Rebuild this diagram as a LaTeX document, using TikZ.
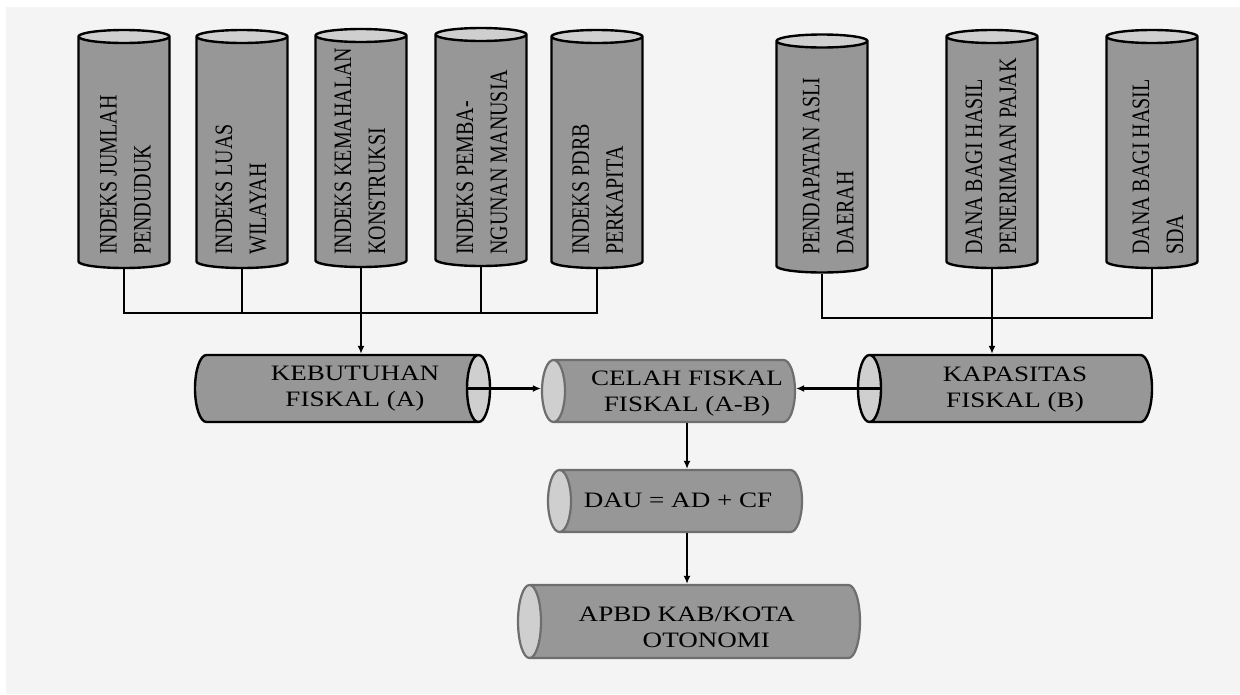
\documentclass[tikz,border=0pt]{standalone}
\usepackage{fontspec}
\setmainfont{Liberation Serif}
\newfontfamily\upfont[FakeStretch=0.8]{Liberation Serif}
\newfontfamily\flatfont[FakeStretch=1.23]{Liberation Serif}
\usetikzlibrary{shapes.geometric,arrows.meta}

\definecolor{bodygray}{HTML}{979797}
\definecolor{endgray}{HTML}{CFCFCF}
\definecolor{rimgray}{HTML}{6E6E6E}
\definecolor{paper}{HTML}{F4F4F4}

\tikzset{
  tube/.style={cylinder, cylinder uses custom fill, cylinder body fill=bodygray,
    cylinder end fill=endgray, draw=black, line width=2.4pt,
    inner xsep=0pt, inner ysep=10pt, anchor=shape center},
  uptube/.style={tube, rotate=90, minimum height=238pt, minimum width=91pt, aspect=0.65},
  flattube/.style={tube, minimum width=67pt, aspect=1.15},
  greytube/.style={flattube, draw=rimgray, line width=2.2pt, shape border rotate=180},
  uplabel/.style={rotate=90, anchor=west, inner sep=0pt, align=left,
    font=\upfont\fontsize{25}{34}\selectfont},
  flatlabel/.style={inner sep=0pt, align=center,
    font=\flatfont\fontsize{22}{26}\selectfont},
  link/.style={line width=2.6pt},
  arr/.style={link, -{Latex[length=8pt,width=7pt]}},
}

\begin{document}
\begin{tikzpicture}[x=1pt,y=-1pt]
  \useasboundingbox (0,0) rectangle (1240,694);
  \fill[paper] (6,7) rectangle (1240,694);

  % indeks kebutuhan fiskal
  \node[uptube] (c1) at (124,149) {};
  \node[uptube] (c2) at (242,149) {};
  \node[uptube] (c3) at (361,148) {};
  \node[uptube] (c4) at (481,147) {};
  \node[uptube] (c5) at (597,149) {};
  \node[uplabel] (c1t) at (125.5,255) {INDEKS JUMLAH\\PENDUDUK};
  \node[uplabel] (c2t) at (241,255) {INDEKS LUAS\\WILAYAH};
  \node[uplabel] (c3t) at (360,255) {INDEKS KEMAHALAN\\KONSTRUKSI};
  \node[uplabel] (c4t) at (482,255) {INDEKS PEMBA-\\NGUNAN MANUSIA};
  \node[uplabel] (c5t) at (597.5,255) {INDEKS PDRB\\PERKAPITA};

  % sumber kapasitas fiskal
  \node[uptube] (c6) at (822,153.5) {};
  \node[uptube] (c7) at (992,149) {};
  \node[uptube] (c8) at (1152,149) {};
  \node[uplabel] (c6t) at (828,255) {PENDAPATAN ASLI\\DAERAH};
  \node[uplabel] (c7t) at (991,255) {DANA BAGI HASIL\\PENERIMAAN PAJAK};
  \node[uplabel] (c8t) at (1158,255) {DANA BAGI HASIL\\SDA};

  \node[flattube, minimum height=295pt] (keb) at (342.5,388.5) {};
  \node[greytube, minimum height=253pt, minimum width=62pt] (cel) at (668.5,391) {};
  \node[flattube, shape border rotate=180, minimum height=294pt] (kap) at (1005,388.5) {};
  \node[greytube, minimum height=254pt, minimum width=62pt] (dau) at (675,501) {};
  \node[greytube, minimum height=342pt, minimum width=73pt] (apbd) at (689,621.5) {};
  \node[flatlabel] (kebt) at (355,389) {KEBUTUHAN\\FISKAL (A)};
  \node[flatlabel] (celt) at (687,394) {CELAH FISKAL\\FISKAL (A-B)};
  \node[flatlabel] (kapt) at (1015,390) {KAPASITAS\\FISKAL (B)};
  \node[flatlabel] (daut) at (678,500) {DAU = AD + CF};
  \node[flatlabel, align=left] (apbdt) at (687,627) {APBD KAB/KOTA\\\hspace*{64pt}OTONOMI};

  \coordinate (lbus) at (0,313);
  \coordinate (rbus) at (0,318);

  \draw[link] (c1.bottom) |- (lbus -| c5.bottom) -- (c5.bottom);
  \foreach \n in {c2,c4}
    \draw[link] (\n.bottom) -- (\n.bottom |- lbus);
  \draw[arr] (c3.bottom) -- (c3.bottom |- keb.north);

  \draw[link] (c6.bottom) |- (rbus -| c8.bottom) -- (c8.bottom);
  \draw[arr] (c7.bottom) -- (c7.bottom |- kap.north);

  \draw[arr] ([xshift=-23pt]keb.top) -- (keb.top -| cel.top);
  \draw[arr] ([xshift=24pt]kap.top) -- (kap.top -| cel.bottom);
  \draw[arr] (cel.south -| celt) -- (dau.north -| celt);
  \draw[arr] (dau.south -| apbdt) -- (apbd.north -| apbdt);
\end{tikzpicture}
\end{document}
